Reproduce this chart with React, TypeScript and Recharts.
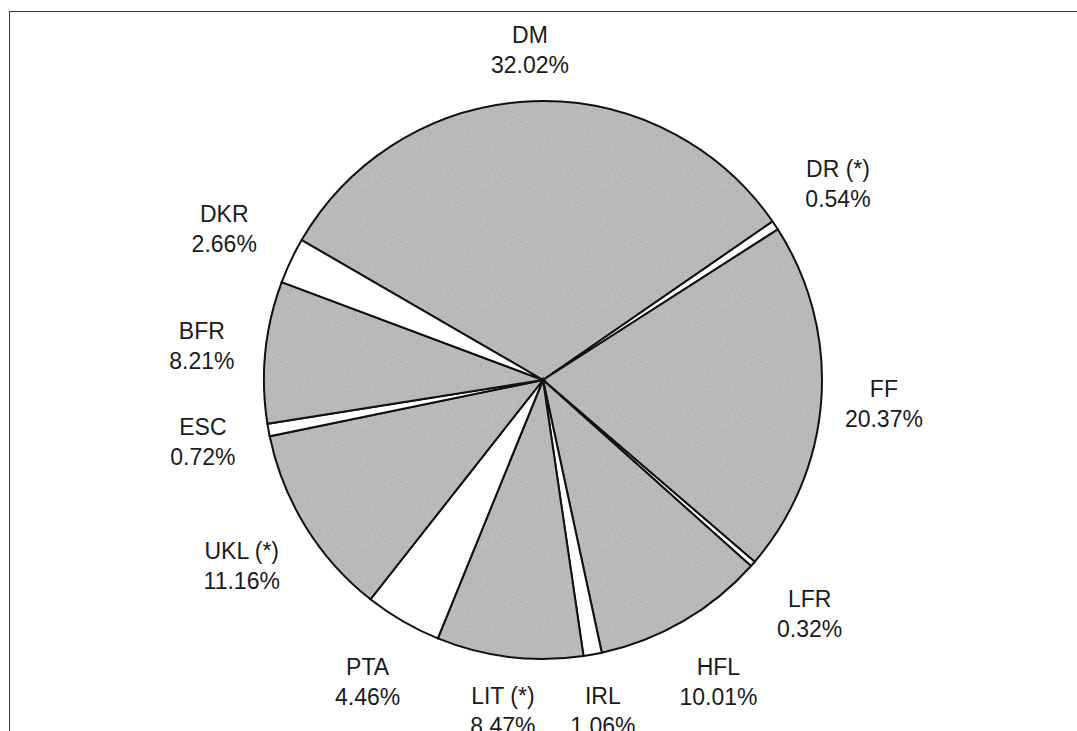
import React from 'react';
import { PieChart, Pie, Cell } from 'recharts';

const names = ['DM', 'DR (*)', 'FF', 'LFR', 'HFL', 'IRL', 'LIT (*)', 'PTA', 'UKL (*)', 'ESC', 'BFR', 'DKR'];
const shares = [32.02, 0.54, 20.37, 0.32, 10.01, 1.06, 8.47, 4.46, 11.16, 0.72, 8.21, 2.66];
const shaded = [true, false, true, false, true, false, true, false, true, false, true, false];

const data = names.map((name, i) => ({ name, value: shares[i], shaded: shaded[i] }));

const RAD = Math.PI / 180;

// labels sit a little further out on the diagonals than straight up/down
const renderLabel = (props: any) => {
  const { cx, cy, midAngle, outerRadius, index } = props;
  const a = -midAngle * RAD;
  const r = outerRadius + 50 + 10 * Math.cos(a) ** 2 + 20 * Math.abs(Math.sin(2 * a));
  const x = cx + r * Math.cos(a);
  const y = cy + r * Math.sin(a);
  return (
    <text x={x} y={y} textAnchor="middle" fill="#1a1a1a" fontSize={23} fontFamily="'Liberation Sans', Arial, sans-serif">
      <tspan x={x} dy={-7}>{names[index]}</tspan>
      <tspan x={x} dy={30}>{shares[index].toFixed(2)}%</tspan>
    </text>
  );
};

export default function App() {
  return (
    <div style={{ position: 'absolute', left: 0, top: 0, width: 1077, height: 731, background: '#fff', overflow: 'hidden' }}>
      <div style={{ position: 'absolute', left: 9, top: 11, width: 1100, height: 740, border: '1.5px solid #333', boxSizing: 'border-box' }} />
      <div style={{ position: 'absolute', left: 0, top: 0 }}>
        <PieChart width={1077} height={731} margin={{ top: 0, right: 0, bottom: 0, left: 0 }}>
          <defs>
            <filter id="grain" x="0" y="0" width="100%" height="100%">
              <feTurbulence type="fractalNoise" baseFrequency="0.9" numOctaves={2} seed={3} />
              <feColorMatrix type="matrix" values="0 0 0 0 0.55  0 0 0 0 0.55  0 0 0 0 0.55  0 0 0 -2.2 1.4" />
            </filter>
            <pattern id="stipple" patternUnits="userSpaceOnUse" width={120} height={120}>
              <rect width={120} height={120} fill="#b4b4b4" />
              <rect width={120} height={120} filter="url(#grain)" />
            </pattern>
          </defs>
          <Pie
            data={data}
            dataKey="value"
            nameKey="name"
            cx={543}
            cy={380}
            outerRadius={279}
            startAngle={149.9}
            endAngle={-210.1}
            stroke="#111"
            strokeWidth={2}
            labelLine={false}
            label={renderLabel}
            isAnimationActive={false}
          >
            {data.map((d, i) => (
              <Cell key={i} fill={d.shaded ? 'url(#stipple)' : '#ffffff'} />
            ))}
          </Pie>
        </PieChart>
      </div>
    </div>
  );
}
